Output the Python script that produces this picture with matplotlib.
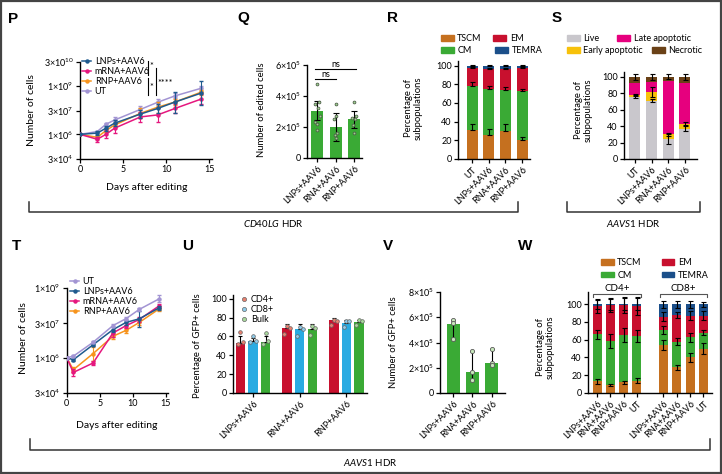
import matplotlib
matplotlib.use('Agg')
import matplotlib.pyplot as plt
from matplotlib import font_manager
from matplotlib.patches import Patch, Rectangle
from matplotlib.lines import Line2D
from matplotlib.ticker import NullLocator
import numpy as np

# ---------------- data ----------------
days_P = [0, 2, 3, 4, 7, 9, 11, 14]
lnp_P = [1e6, 1.2e6, 2.4e6, 4.9e6, 1.8e7, 4.0e7, 1.0e8, 3.5e8]
mrna_P = [1e6, 5.0e5, 1.0e6, 2.4e6, 1.2e7, 1.6e7, 4.0e7, 1.5e8]
rnp_P = [1e6, 6.6e5, 1.7e6, 3.8e6, 2.0e7, 4.8e7, 1.0e8, 4.0e8]
ut_P = [1e6, 1.5e6, 4.2e6, 7.7e6, 3.5e7, 9.7e7, 2.4e8, 7.0e8]
# error bars as log10 half-widths
lnp_P_err = [0, 0.1, 0.15, 0.2, 0.25, 0.3, 0.65, 0.75]
mrna_P_err = [0, 0.15, 0.25, 0.3, 0.3, 0.45, 0.3, 0.3]
rnp_P_err = [0, 0.1, 0.1, 0.15, 0.3, 0.35, 0.2, 0.15]
ut_P_err = [0, 0.05, 0.1, 0.2, 0.2, 0.2, 0.15, 0.15]

q_groups = ['LNPs+AAV6', 'RNA+AAV6', 'RNP+AAV6']
q_means = [3.05e5, 2.0e5, 2.5e5]
q_sd = [0.6e5, 0.9e5, 0.55e5]
q_points = [[4.8e5, 3.6e5, 3.5e5, 3.2e5, 2.7e5, 2.3e5, 2.2e5, 1.8e5],
            [3.5e5, 2.7e5, 2.5e5, 1.6e5, 1.5e5, 1.3e5],
            [3.6e5, 2.7e5, 2.6e5, 2.5e5, 2.1e5, 1.6e5]]

r_groups = ['UT', 'LNPs+AAV6', 'RNA+AAV6', 'RNP+AAV6']
r_tscm = [31, 26, 30, 20]
r_cm = [47, 49, 44, 53]
r_em = [19, 21, 22, 24]
r_temra = [3, 4, 4, 3]
r_tscm_err = [6, 6, 8, 4]
r_cm_err = [5, 3, 3, 2]
r_em_err = [2, 2, 2, 2]
r_temra_err = [1, 1, 1, 1]

s_groups = ['UT', 'LNPs+AAV6', 'RNA+AAV6', 'RNP+AAV6']
s_live = [76, 71, 24, 37]
s_early = [2, 11, 6, 6]
s_late = [15, 12, 65, 49]
s_necrotic = [7, 6, 5, 8]
s_live_err = [2, 2, 6, 3]
s_early_err = [1, 6, 2, 2]
s_late_err = [0, 0, 0, 0]
s_necrotic_err = [4, 4, 3, 4]

days_T = [0, 1, 4, 7, 9, 11, 14]
ut_T = [1e6, 1.15e6, 4.6e6, 2.4e7, 4.8e7, 1.2e8, 3.4e8]
lnp_T = [1e6, 8.1e5, 3.6e6, 1.6e7, 3.3e7, 4.7e7, 1.4e8]
mrna_T = [1e6, 2.3e5, 5.9e5, 1.15e7, 2.4e7, 4.4e7, 1.7e8]
rnp_T = [1e6, 3.0e5, 1.5e6, 8.3e6, 1.5e7, 3.3e7, 1.26e8]
ut_T_err = [0, 0.05, 0.05, 0.05, 0.05, 0.05, 0.15]
lnp_T_err = [0, 0.05, 0.05, 0.1, 0.1, 0.35, 0.1]
mrna_T_err = [0, 0.15, 0.1, 0.15, 0.1, 0.1, 0.1]
rnp_T_err = [0, 0.1, 0.3, 0.1, 0.1, 0.1, 0.1]

u_groups = ['LNPs+AAV6', 'RNA+AAV6', 'RNP+AAV6']
u_cd4 = [53, 69, 77]
u_cd8 = [55, 68, 74]
u_bulk = [54, 68, 75]
u_cd4_err = [7, 4, 3]
u_cd8_err = [3, 5, 3]
u_bulk_err = [6, 5, 3]
u_cd4_pts = [[65, 54, 52], [71, 69, 63], [78, 76, 72]]
u_cd8_pts = [[60, 55, 54], [70, 68, 60], [76, 76, 70]]
u_bulk_pts = [[64, 55, 52], [71, 69, 62], [78, 76, 72]]

v_groups = ['LNPs+AAV6', 'RNA+AAV6', 'RNP+AAV6']
v_means = [5.5e5, 1.7e5, 2.4e5]
v_err_low = [1.25e5, 0.65e5, 0.2e5]
v_err_high = [0.25e5, 1.65e5, 1.1e5]
v_points = [[5.75e5, 5.55e5, 4.25e5], [3.35e5, 1.7e5, 1.05e5], [3.5e5, 2.4e5, 2.2e5]]

w_groups = ['LNPs+AAV6', 'RNA+AAV6', 'RNP+AAV6', 'UT'] * 2
w_tscm = [13, 9, 12, 14, 54, 29, 40, 50]
w_cm = [53, 50, 53, 50, 17, 29, 23, 18]
w_em = [32, 40, 34, 34, 15, 30, 24, 19]
w_temra = [2, 1, 1, 2, 14, 12, 13, 13]
w_tscm_err = [3, 1, 2, 3, 6, 3, 5, 6]
w_cm_err = [5, 8, 8, 7, 4, 4, 5, 3]
w_em_err = [8, 8, 9, 10, 5, 3, 5, 5]
w_temra_err = [5, 6, 7, 7, 4, 4, 4, 3]

# ---------------- style ----------------
names = {f.name for f in font_manager.fontManager.ttflist}
base = 'Lato' if 'Lato' in names else 'DejaVu Sans'
narrow = 'Liberation Sans Narrow' if 'Liberation Sans Narrow' in names else base
bold = 'Liberation Sans' if 'Liberation Sans' in names else 'DejaVu Sans'

plt.rcParams['font.family'] = [base, 'DejaVu Sans']
plt.rcParams['font.size'] = 6.5
plt.rcParams['mathtext.fontset'] = 'custom'
plt.rcParams['mathtext.rm'] = base
plt.rcParams['mathtext.it'] = base + ':italic'

blue = '#1f5a8e'
pink = '#e5177e'
orange = '#f7941d'
lav = '#a294d3'
green = '#3aaa35'
red = '#c8102e'
sky = '#29abe2'
c_tscm = '#c5701f'
c_temra = '#1b4f8a'
c_live = '#c9c7cc'
c_early = '#f7c10a'
c_late = '#e6007e'
c_nec = '#6a4117'

W_PX, H_PX = 722, 474
fig = plt.figure(figsize=(7.22, 4.74), dpi=100)

over = fig.add_axes([0, 0, 1, 1])
over.set_xlim(0, W_PX)
over.set_ylim(H_PX, 0)
over.axis('off')


def px_axes(l, t, r, b):
    ax = fig.add_axes([l / W_PX, 1 - b / H_PX, (r - l) / W_PX, (b - t) / H_PX])
    for s in ['top', 'right']:
        ax.spines[s].set_visible(False)
    for s in ['left', 'bottom']:
        ax.spines[s].set_linewidth(1.0)
    ax.tick_params(length=3, width=0.9, pad=1.5, labelsize=6.5)
    ax.patch.set_alpha(0)
    return ax


def fig_legend(handles, labels, x, y, ncol=1, **kw):
    opts = dict(loc='upper left', bbox_to_anchor=(x / W_PX, 1 - y / H_PX), frameon=False,
                fontsize=6.5, ncol=ncol, borderpad=0, borderaxespad=0, handletextpad=0.4,
                columnspacing=1.2, labelspacing=0.15, handlelength=1.4, handleheight=0.6)
    opts.update(kw)
    fig.legend(handles, labels, **opts)


def log_err(vals, err):
    v = np.array(vals, float)
    e = np.array(err, float)
    return v, [v - v / 10 ** e, v * 10 ** e - v]


def sci(m, p):
    return r'%d×10$^{%d}$' % (m, p)


def stacked(ax, x, layers, colors, errs, width, up_only=False):
    x = np.array(x)
    bottom = np.zeros(len(x))
    for vals, col, err in zip(layers, colors, errs):
        vals = np.array(vals, float)
        ax.bar(x, vals, width, bottom=bottom, color=col, lw=0)
        top = bottom + vals
        e = np.array(err, float)
        keep = e > 0
        yerr = [np.zeros(keep.sum()), e[keep]] if up_only else e[keep]
        ax.errorbar(x[keep], top[keep], yerr=yerr, fmt='none', ecolor='k',
                    elinewidth=0.8, capsize=1.8, capthick=0.8, zorder=3)
        bottom = top


def rot_labels(ax, labels):
    ax.set_xticklabels(labels, rotation=45, ha='right', rotation_mode='anchor', fontsize=6.5)


# ---------------- P ----------------
axP = px_axes(80, 62, 212, 159)
axP.set_yscale('log')
for vals, err, col, z in [(ut_P, ut_P_err, lav, 2), (rnp_P, rnp_P_err, orange, 3),
                          (mrna_P, mrna_P_err, pink, 4), (lnp_P, lnp_P_err, blue, 5)]:
    v, ye = log_err(vals, err)
    axP.errorbar(days_P, v, yerr=ye, color=col, marker='o', ms=2.2, lw=1.1,
                 elinewidth=0.8, capsize=1.5, zorder=z)
axP.set_ylim(3e4, 3e10)
axP.set_xlim(0, 15.3)
axP.set_xticks([0, 5, 10, 15])
axP.set_yticks([3e4, 1e6, 3e7, 1e9, 3e10])
axP.set_yticklabels([sci(3, 4), sci(1, 6), sci(3, 7), sci(1, 9), sci(3, 10)])
axP.yaxis.set_minor_locator(NullLocator())
fig_legend([Line2D([], [], color=c, marker='o', ms=2.2, lw=1.1) for c in [blue, pink, orange, lav]],
           ['LNPs+AAV6', 'mRNA+AAV6', 'RNP+AAV6', 'UT'], 82, 57,
           handlelength=1.0, labelspacing=0.1)
# significance marks
over.plot([148, 148], [61, 75], color='k', lw=0.8)
over.plot([148, 148], [78, 95], color='k', lw=0.8)
over.plot([156, 156], [68, 95], color='k', lw=0.8)
over.text(151, 66, '*', fontsize=6.5, ha='center', va='center')
over.text(151, 87, '*', fontsize=6.5, ha='center', va='center')
over.text(165, 83, '****', fontsize=6.5, ha='center', va='center')

# ---------------- Q ----------------
axQ = px_axes(307, 65, 362, 158)
xq = np.arange(len(q_groups))
axQ.bar(xq, q_means, 0.65, color=green, lw=0)
axQ.errorbar(xq, q_means, yerr=q_sd, fmt='none', ecolor='k', elinewidth=0.8, capsize=2, capthick=0.8, zorder=3)
q_jit = [[0, 0.12, -0.1, 0.05, 0.15, -0.12, 0.02, -0.02],
         [0, 0.05, -0.08, 0.1, -0.05, 0.02],
         [0, 0.1, -0.1, 0.05, -0.08, 0]]
for i, pts in enumerate(q_points):
    axQ.scatter(i + np.array(q_jit[i]), pts, s=4, facecolor='#9fd28f', edgecolor='#4f5f4a', lw=0.6, zorder=4)
axQ.set_ylim(0, 6e5)
axQ.set_xlim(-0.54, 2.43)
axQ.set_yticks([0, 2e5, 4e5, 6e5])
axQ.set_yticklabels(['0', sci(2, 5), sci(4, 5), sci(6, 5)])
axQ.set_xticks(xq)
rot_labels(axQ, q_groups)
axQ.plot([-0.1, 1], [5.1e5, 5.1e5], color='k', lw=0.8, clip_on=False)
axQ.plot([-0.1, 2.1], [5.74e5, 5.74e5], color='k', lw=0.8, clip_on=False)
axQ.text(0.45, 5.12e5, 'ns', ha='center', va='bottom', fontsize=6.5)
axQ.text(1.0, 5.76e5, 'ns', ha='center', va='bottom', fontsize=6.5, clip_on=False)

# ---------------- R ----------------
axR = px_axes(458, 61, 530, 159)
xr = np.arange(len(r_groups))
stacked(axR, xr, [r_tscm, r_cm, r_em, r_temra], [c_tscm, green, red, c_temra],
        [r_tscm_err, r_cm_err, r_em_err, r_temra_err], 0.66, up_only=True)
axR.set_ylim(0, 105)
axR.set_xlim(-0.84, 3.48)
axR.set_yticks([0, 20, 40, 60, 80, 100])
axR.set_xticks(xr)
rot_labels(axR, r_groups)
fig_legend([Patch(color=c_tscm), Patch(color=red)], ['TSCM', 'EM'], 441, 34, ncol=2, columnspacing=1.3)
fig_legend([Patch(color=green), Patch(color=c_temra)], ['CM', 'TEMRA'], 441, 46, ncol=2, columnspacing=2.6)

# ---------------- S ----------------
axS = px_axes(624, 72, 697, 159)
xs = np.arange(len(s_groups))
stacked(axS, xs, [s_live, s_early, s_late, s_necrotic], [c_live, c_early, c_late, c_nec],
        [s_live_err, s_early_err, s_late_err, s_necrotic_err], 0.66)
axS.set_ylim(0, 106)
axS.set_xlim(-0.66, 3.73)
axS.set_yticks([0, 20, 40, 60, 80, 100])
axS.set_xticks(xs)
rot_labels(axS, s_groups)
fig_legend([Patch(color=c_live), Patch(color=c_late)], ['Live', 'Late apoptotic'], 567, 34, ncol=2, columnspacing=2.0)
fig_legend([Patch(color=c_early), Patch(color=c_nec)], ['Early apoptotic', 'Necrotic'], 567, 46, ncol=2, columnspacing=1.0)

# ---------------- T ----------------
axT = px_axes(66.7, 288, 167.7, 393)
axT.set_yscale('log')
for vals, err, col, z in [(rnp_T, rnp_T_err, orange, 2), (mrna_T, mrna_T_err, pink, 3),
                          (lnp_T, lnp_T_err, blue, 4), (ut_T, ut_T_err, lav, 5)]:
    v, ye = log_err(vals, err)
    axT.errorbar(days_T, v, yerr=ye, color=col, marker='o', ms=2.2, lw=1.1,
                 elinewidth=0.8, capsize=1.5, zorder=z)
axT.set_ylim(3e4, 1e9)
axT.set_xlim(0, 15.3)
axT.set_xticks([0, 5, 10, 15])
axT.set_yticks([3e4, 1e6, 3e7, 1e9])
axT.set_yticklabels([sci(3, 4), sci(1, 6), sci(3, 7), sci(1, 9)])
axT.yaxis.set_minor_locator(NullLocator())
fig_legend([Line2D([], [], color=c, marker='o', ms=2.2, lw=1.1) for c in [lav, blue, pink, orange]],
           ['UT', 'LNPs+AAV6', 'mRNA+AAV6', 'RNP+AAV6'], 70, 277,
           handlelength=1.0, labelspacing=0.1)

# ---------------- U ----------------
axU = px_axes(233, 295, 367, 393)
xu = np.arange(len(u_groups))
u_off = [-0.27, 0, 0.27]
u_dot = ['#e8806f', '#8fcbea', '#a8d89c']
u_jit = [0, 0.06, -0.06]
for off, vals, err, pts, col, dcol in zip(u_off, [u_cd4, u_cd8, u_bulk], [u_cd4_err, u_cd8_err, u_bulk_err],
                                          [u_cd4_pts, u_cd8_pts, u_bulk_pts], [red, sky, green], u_dot):
    axU.bar(xu + off, vals, 0.2, color=col, lw=0)
    axU.errorbar(xu + off, vals, yerr=[np.zeros(3), err], fmt='none', ecolor='k',
                 elinewidth=0.8, capsize=1.5, capthick=0.8, zorder=3)
    for i, p in enumerate(pts):
        axU.scatter(xu[i] + off + np.array(u_jit), p, s=7, facecolor=dcol, edgecolor='#666666', lw=0.5, zorder=4)
axU.set_ylim(0, 104)
axU.set_xlim(-0.43, 2.44)
axU.set_yticks([0, 20, 40, 60, 80, 100])
axU.set_xticks(xu)
rot_labels(axU, u_groups)
fig_legend([Line2D([], [], ls='', marker='o', ms=3, mfc=c, mec='#666666', mew=0.5) for c in u_dot],
           ['CD4+', 'CD8+', 'Bulk'], 240, 295, handlelength=0.8, labelspacing=0.1)

# ---------------- V ----------------
axV = px_axes(440, 292, 505, 393)
xv = np.arange(len(v_groups))
axV.bar(xv, v_means, 0.67, color=green, lw=0)
axV.errorbar(xv, v_means, yerr=[v_err_low, v_err_high], fmt='none', ecolor='k',
             elinewidth=0.8, capsize=1.5, capthick=0.8, zorder=3)
for i, pts in enumerate(v_points):
    axV.scatter(np.full(len(pts), i), pts, s=9, facecolor='#c7e8bc', edgecolor='#5a5a5a', lw=0.6, zorder=4)
axV.set_ylim(0, 8e5)
axV.set_xlim(-0.67, 2.67)
axV.set_yticks([0, 2e5, 4e5, 6e5, 8e5])
axV.set_yticklabels(['0', sci(2, 5), sci(4, 5), sci(6, 5), sci(8, 5)])
axV.set_xticks(xv)
rot_labels(axV, v_groups)

# ---------------- W ----------------
axW = px_axes(588, 292, 712, 393)
xw = np.array([0, 1, 2, 3, 5, 6, 7, 8])
stacked(axW, xw, [w_tscm, w_cm, w_em, w_temra], [c_tscm, green, red, c_temra],
        [w_tscm_err, w_cm_err, w_em_err, w_temra_err], 0.68)
axW.set_ylim(0, 113.8)
axW.set_xlim(-0.68, 8.65)
axW.set_yticks([0, 20, 40, 60, 80, 100])
axW.set_xticks(xw)
rot_labels(axW, w_groups)
for lo, hi, lab in [(-0.3, 3.3, 'CD4+'), (4.7, 8.3, 'CD8+')]:
    axW.plot([lo, lo, hi, hi], [108, 111, 111, 108], color='#555555', lw=0.8, clip_on=False)
    axW.text((lo + hi) / 2, 113, lab, ha='center', va='bottom', fontsize=7, clip_on=False)
fig_legend([Patch(color=c_tscm), Patch(color=green), Patch(color=red), Patch(color=c_temra)],
           ['TSCM', 'CM', 'EM', 'TEMRA'], 601, 258, ncol=2, columnspacing=2.2, labelspacing=0.4)

# ---------------- axis labels ----------------
lab_n = dict(fontsize=7.5, family=[narrow, 'DejaVu Sans'], ha='center', va='center')
lab_r = dict(fontsize=6.8, ha='center', va='center', linespacing=1.1)
over.text(32, 110, 'Number of cells', rotation=90, **lab_n)
over.text(147, 188, 'Days after editing', **lab_n)
over.text(23, 338, 'Number of cells', rotation=90, **lab_n)
over.text(117, 425, 'Days after editing', **lab_n)
over.text(262, 110, 'Number of edited cells', rotation=90, **lab_r)
over.text(413, 108, 'Percentage of\nsubpopulations', rotation=90, **lab_r)
over.text(583, 110, 'Percentage of\nsubpopulations', rotation=90, **lab_r)
over.text(198, 346, 'Percentage of GFP+ cells', rotation=90, **lab_r)
over.text(394, 342, 'Number of GFP+ cells', rotation=90, **lab_r)
over.text(545, 347, 'Percentage of\nsubpopulations', rotation=90, **lab_r)

# ---------------- panel letters ----------------
for lt, x, y in [('P', 13, 19), ('Q', 243, 18), ('R', 392, 18), ('S', 557, 18),
                 ('T', 16, 246), ('U', 188, 246), ('V', 388, 246), ('W', 525, 246)]:
    over.text(x, y, lt, fontsize=11, fontweight='bold', family=bold, ha='center', va='center')

# ---------------- brackets ----------------
bk = dict(color='#333333', lw=1.1)
over.plot([29, 29, 518, 518], [202, 212, 212, 202], **bk)
over.text(273, 223, r'$\mathit{CD40LG}$ HDR', fontsize=7, ha='center', va='center')
over.plot([567, 567, 700, 700], [202, 212, 212, 202], **bk)
over.text(633, 223, r'$\mathit{AAVS1}$ HDR', fontsize=7, ha='center', va='center')
over.plot([30, 30, 710, 710], [439, 450, 450, 439], **bk)
over.text(370, 462, r'$\mathit{AAVS1}$ HDR', fontsize=7, ha='center', va='center')

over.add_patch(Rectangle((0.8, 0.8), W_PX - 1.6, H_PX - 1.6, fill=False, ec='#444444', lw=1.6))

fig.savefig('out.png', dpi=100)
